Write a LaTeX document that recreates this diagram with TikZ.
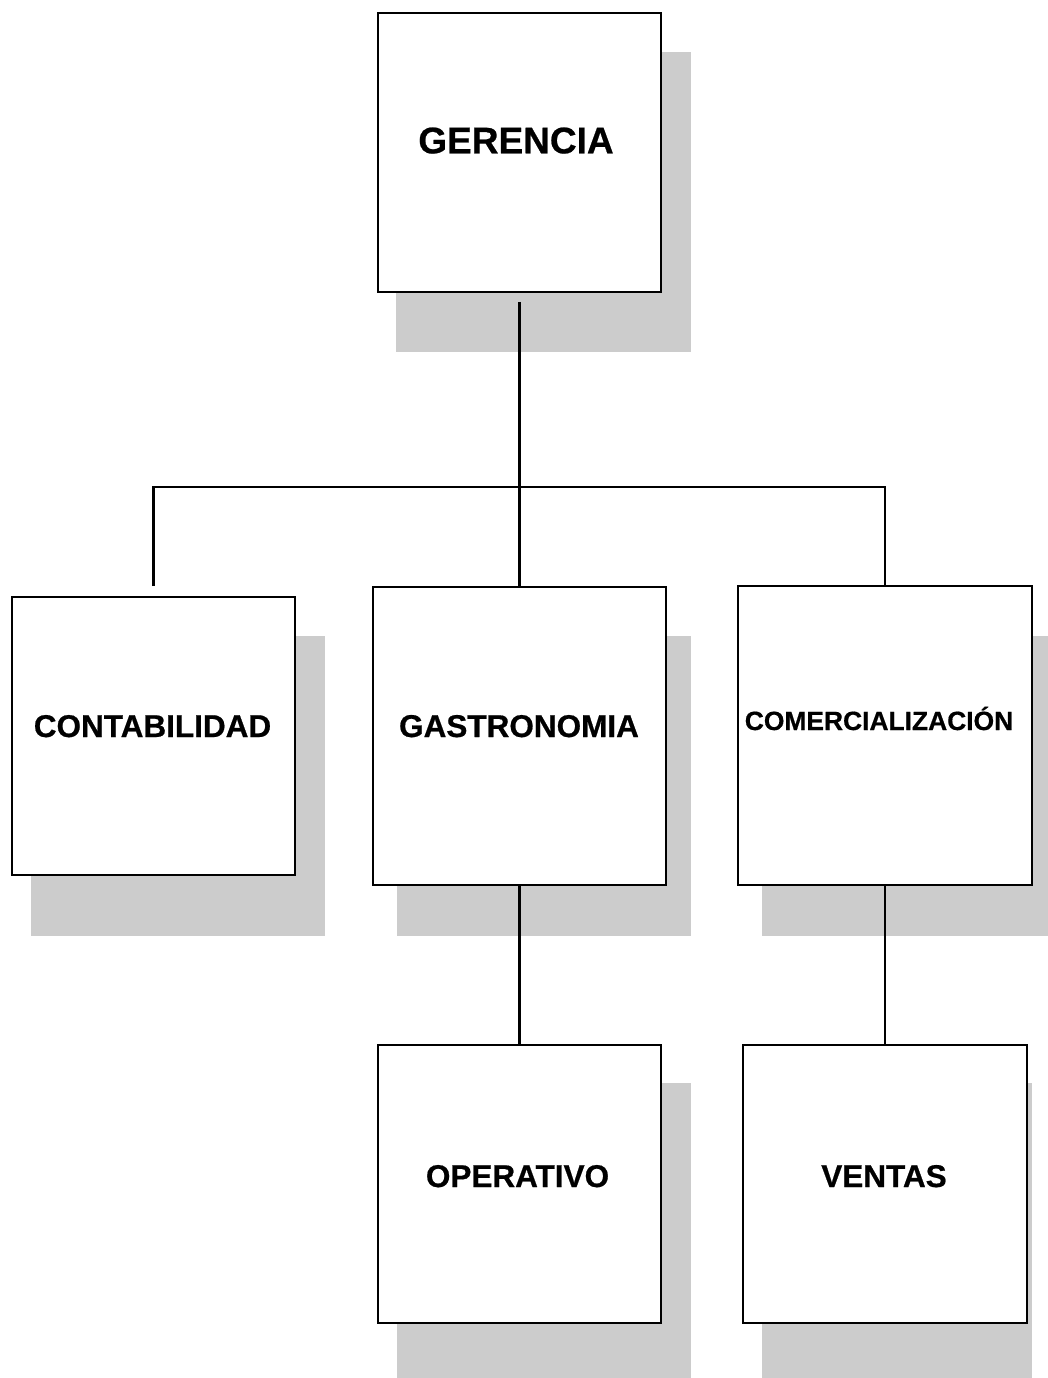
\documentclass[tikz,border=0pt]{standalone}
\usepackage{fontspec}
\setmainfont{Liberation Sans}[BoldFont={Liberation Sans Bold}, BoldFeatures={FakeBold=0.6}]
\definecolor{shadowgray}{RGB}{204,204,204}
\tikzset{
  orgbox/.style={draw=black, line width=1.8pt, fill=white, inner sep=0pt, rectangle},
  shadowbox/.style={fill=shadowgray, draw=none},
  conn/.style={draw=black, line width=2.1pt},
  lbl/.style={inner sep=0pt, anchor=base, font=\fontsize{31.5}{34}\selectfont\bfseries},
}
\begin{document}
\begin{tikzpicture}[x=1pt,y=-1pt]
\useasboundingbox (0,0) rectangle (1048,1378);
% shadows
\fill[shadowbox] (396,52) rectangle (691,352);
\fill[shadowbox] (31,636) rectangle (325,936);
\fill[shadowbox] (397,636) rectangle (691,936);
\fill[shadowbox] (762,636) rectangle (1048,936);
\fill[shadowbox] (397,1083) rectangle (691,1378);
\fill[shadowbox] (762,1083) rectangle (1032,1378);
% boxes
\node[orgbox, minimum width=283pt, minimum height=279pt] (ger) at (519.5,152.5) {};
\node[orgbox, minimum width=283pt, minimum height=278pt] (cont) at (153.5,736) {};
\node[orgbox, minimum width=293pt, minimum height=298pt] (gastro) at (519.5,736) {};
\node[orgbox, minimum width=294pt, minimum height=299pt] (comer) at (885,735.5) {};
\node[orgbox, minimum width=283pt, minimum height=278pt] (oper) at (519.5,1184) {};
\node[orgbox, minimum width=284pt, minimum height=278pt] (ventas) at (885,1184) {};
% connectors
\coordinate (bus) at (519.5,487);
\draw[conn, shorten <=9pt] (ger.south) -- (gastro.north);
\draw[conn, shorten <=10pt] (cont.north) |- (bus) -| (comer.north);
\draw[conn] (gastro.south) -- (oper.north);
\draw[conn] (comer.south) -- (ventas.north);
% labels
\node[lbl, font=\fontsize{37}{40}\selectfont\bfseries] (gerT) at (516,153.3) {GERENCIA};
\node[lbl] (contT) at (152.5,737) {CONTABILIDAD};
\node[lbl] (gastroT) at (519,737) {GASTRONOMIA};
\node[lbl, font=\fontsize{26.4}{29}\selectfont\bfseries] (comerT) at (879,730) {COMERCIALIZACIÓN};
\node[lbl] (operT) at (517.5,1187) {OPERATIVO};
\node[lbl] (ventasT) at (884,1187) {VENTAS};
\end{tikzpicture}
\end{document}
